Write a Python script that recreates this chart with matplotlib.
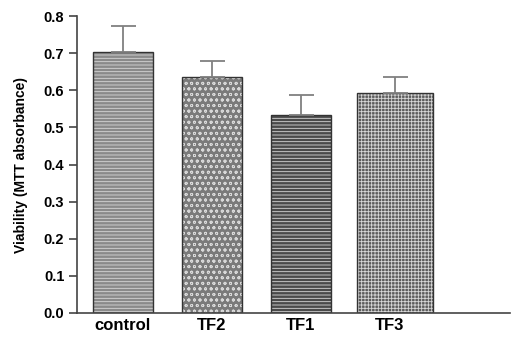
import numpy as np
import matplotlib
matplotlib.use("Agg")
import matplotlib.pyplot as plt

# Data
groups = ["control", "TF2", "TF1", "TF3"]
viability = [0.703, 0.636, 0.533, 0.593]
sem = [0.070, 0.043, 0.054, 0.043]

# Appearance of each bar
positions = [0.0, 1.0, 2.0, 3.06]
widths = [0.68, 0.68, 0.67, 0.85]
faces = ["#8a8a8a", "#7a7a7a", "#4a4a4a", "#5c5c5c"]
hatches = ["-----", "ooo", "-----", "+++++"]

plt.rcParams["font.family"] = ["Liberation Sans", "DejaVu Sans"]
plt.rcParams["hatch.linewidth"] = 0.6

fig = plt.figure(figsize=(5.12, 3.42), dpi=100)
ax = fig.add_axes([0.150, 0.085, 0.846, 0.868])

# filled bars
ax.bar(positions, viability, width=widths, color=faces, linewidth=0)
# white hatch texture
for p, v, w, h in zip(positions, viability, widths, hatches):
    ax.bar(p, v, width=w, color="none", edgecolor="#d8d8d8", hatch=h, linewidth=0)
# dark outline
ax.bar(positions, viability, width=widths, fill=False, edgecolor="#333333", linewidth=1.0)

# upper error bars only
ax.errorbar(positions, viability, yerr=[np.zeros(len(sem)), sem], fmt="none",
            ecolor="#808080", elinewidth=1.3, capsize=9, capthick=1.3)

ax.set_xlim(-0.517, 4.35)
ax.set_ylim(0, 0.8)
yt = np.arange(0, 0.81, 0.1)
ax.set_yticks(yt)
ax.set_yticklabels([f"{t:.1f}" for t in yt], fontsize=10.5, fontweight="bold")
ax.set_xticks(positions[:3] + [3.0])
ax.set_xticklabels(groups, fontsize=12, fontweight="bold")
ax.tick_params(axis="x", length=0, pad=4)
ax.tick_params(axis="y", length=6, width=1.2, color="#444444", pad=3)
ax.set_ylabel("Viability (MTT absorbance)", fontsize=10, fontweight="bold", labelpad=11)

for s in ["top", "right"]:
    ax.spines[s].set_visible(False)
for s in ["left", "bottom"]:
    ax.spines[s].set_color("#444444")
    ax.spines[s].set_linewidth(1.2)

fig.savefig("out.png", dpi=100)
